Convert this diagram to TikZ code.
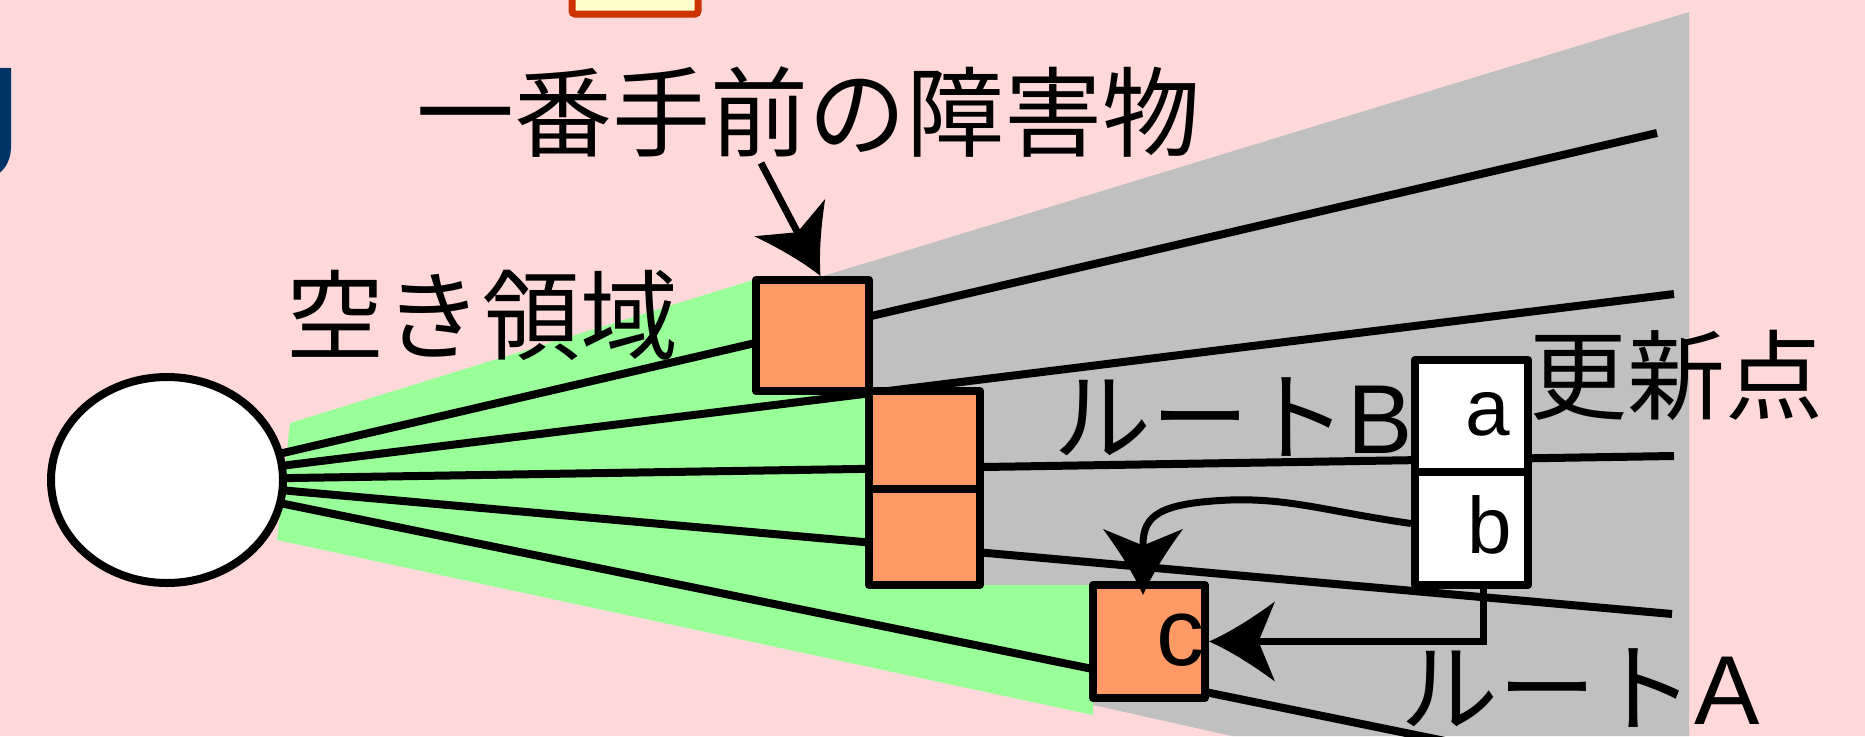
\documentclass[tikz,border=0pt]{standalone}
\usepackage{fontspec}
\setmainfont{Liberation Sans}
\newfontfamily\jp{Noto Sans CJK JP}
\usetikzlibrary{arrows.meta,shapes.geometric}
\definecolor{bgpink}{HTML}{FFD9D9}
\definecolor{shadow}{HTML}{C0C0C0}
\definecolor{freegreen}{HTML}{99FF99}
\definecolor{obst}{HTML}{FF9966}
\definecolor{navy}{HTML}{003366}
\definecolor{topedge}{HTML}{CC3300}
\definecolor{topfill}{HTML}{FFFFCC}
\pgfdeclarelayer{bg}
\pgfsetlayers{bg,main}
\pgfdeclarearrow{
  name = Swept,
  defaults = {length = 66pt, width = 80pt},
  setup code = {
    \pgfarrowssettipend{0pt}
    \pgfarrowssetlineend{-.65\pgfarrowlength}
    \pgfarrowssetbackend{-\pgfarrowlength}
    \pgfarrowssavethe\pgfarrowlength
    \pgfarrowssavethe\pgfarrowwidth
  },
  drawing code = {
    \pgfpathmoveto{\pgfpointorigin}
    \pgfpathcurveto{\pgfpoint{-.33\pgfarrowlength}{.12\pgfarrowwidth}}{\pgfpoint{-.67\pgfarrowlength}{.3\pgfarrowwidth}}{\pgfpoint{-\pgfarrowlength}{.5\pgfarrowwidth}}
    \pgfpathlineto{\pgfpoint{-.75\pgfarrowlength}{0pt}}
    \pgfpathlineto{\pgfpoint{-\pgfarrowlength}{-.5\pgfarrowwidth}}
    \pgfpathcurveto{\pgfpoint{-.67\pgfarrowlength}{-.3\pgfarrowwidth}}{\pgfpoint{-.33\pgfarrowlength}{-.12\pgfarrowwidth}}{\pgfpointorigin}
    \pgfpathclose
    \pgfusepathqfill
  },
  parameters = {\the\pgfarrowlength,\the\pgfarrowwidth},
}
\begin{document}
\begin{tikzpicture}[x=1pt,y=-1pt,
  box/.style={draw, line width=8pt, line join=round, rectangle, inner sep=0pt, fill=obst},
  wbox/.style={box, fill=white},
  lbl/.style={inner sep=0pt, font=\jp\fontsize{98}{98}\selectfont},
  letter/.style={inner sep=0pt, anchor=base},
  arr/.style={line width=7pt, -{Swept[length=66pt,width=80pt]}},
  ray/.style={line width=8pt, shorten <=-40pt}
]
\useasboundingbox (0,0) rectangle (1865,736);

% top partial box and navy fragment
\node[draw=topedge, fill=topfill, line width=7pt, rounded corners=3pt, inner sep=0pt,
      minimum width=126pt, minimum height=60pt] (topbox) at (635,-16) {};
\node[text=navy, font=\fontsize{160}{160}\selectfont, anchor=base west, inner sep=0pt] (jfrag) at (-57,178) {J};

% robot
\node[draw, ellipse, fill=white, line width=8pt, inner sep=0pt,
      minimum width=232pt, minimum height=206pt] (src) at (167,480) {};

% obstacles
\node[box, minimum width=113pt, minimum height=111pt] (o1) at (812.5,335.5) {};
\node[box, minimum width=111pt, minimum height=98pt] (o2) at (924.5,440) {};
\node[box, minimum width=111pt, minimum height=96pt] (o3) at (924.5,537) {};
\node[box, minimum width=112pt, minimum height=113pt] (c) at (1149,641.5) {};
\node[wbox, minimum width=113pt, minimum height=112pt] (a) at (1471.5,416) {};
\node[wbox, minimum width=113pt, minimum height=113pt] (b) at (1471.5,528.5) {};

\node[letter, font=\fontsize{80}{80}\selectfont] (ta) at (1488,435) {a};
\node[letter, font=\fontsize{80}{80}\selectfont] (tb) at (1490,553) {b};
\node[letter, font=\fontsize{96}{96}\selectfont] (tc) at (1180,665) {c};

% labels
\node[lbl] (t1) at (808,112) {一番手前の障害物};
\node[lbl] (t2) at (482,315) {空き領域};
\node[lbl] (t3) at (1233,417) {ルート{\rmfamily B}};
\node[lbl] (t4) at (1676,375) {更新点};
\node[lbl] (t5) at (1580,688) {ルート{\rmfamily A}};

% ray ends
\coordinate (r1) at (1657,133);
\coordinate (r2) at (1674,294);
\coordinate (r3) at (1674,456);
\coordinate (r4) at (1672,614);
\coordinate (r5) at (1450,742);

\begin{pgfonlayer}{bg}
  \fill[bgpink] (0,0) rectangle (1865,736);
  \fill[shadow] (820,277) -- (1689,12) -- (1689,736) -- (1232,736) -- (1093,705)
      -- (900,600) -- (800,400) -- cycle;
  \fill[freegreen] (290,423) -- (753,280) -- (753,391) -- (869,391) -- (869,585)
      -- (1093,585) -- (1093,715) -- (277,540) -- cycle;
  \foreach \r in {r1,r2,r3,r4,r5} \draw[ray] (src) -- (\r);
\end{pgfonlayer}

% arrows
\coordinate (a1s) at (761,163);
\draw[arr] (a1s) -- ([xshift=8pt]o1.north);
\draw[arr] ([yshift=5pt]b.west) .. controls (1330,512) and (1290,498) .. (1230,500)
   .. controls (1160,503) and (1143,515) .. (1143,545) -- ([xshift=-6pt,yshift=-14pt]c.north);
\draw[arr] ([xshift=12pt]b.south) |- (c.east);
\end{tikzpicture}
\end{document}
